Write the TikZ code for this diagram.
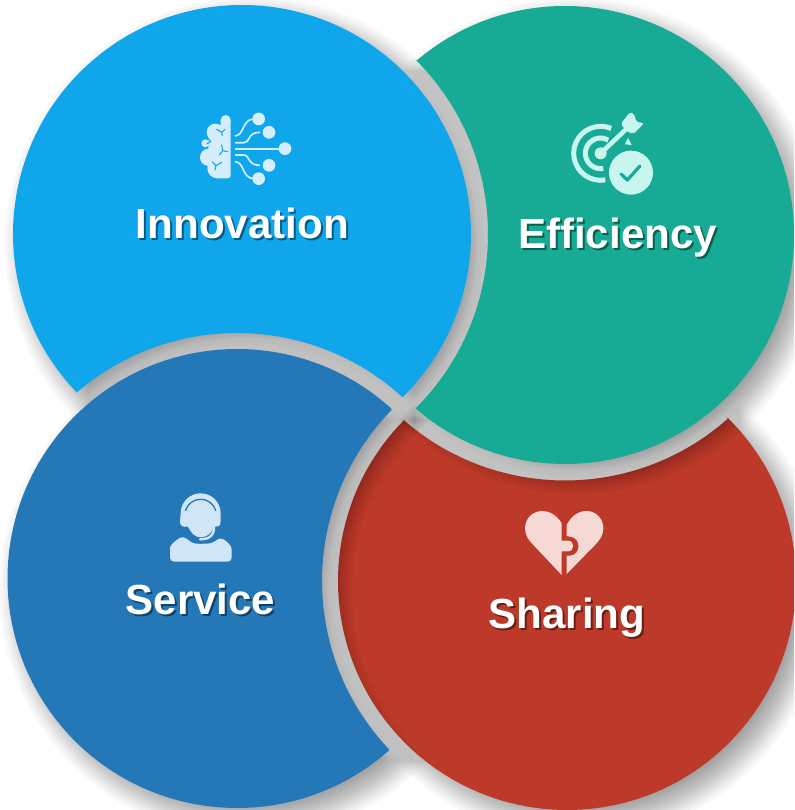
\documentclass[tikz,border=0pt]{standalone}
\usetikzlibrary{calc}
\usepackage{fontspec}
\setmainfont{Liberation Sans}
\definecolor{cA}{RGB}{16,166,236}
\definecolor{cB}{RGB}{23,170,148}
\definecolor{cC}{RGB}{36,120,184}
\definecolor{cD}{RGB}{189,57,41}
\definecolor{iA}{RGB}{214,238,252}
\definecolor{iB}{RGB}{200,245,238}
\definecolor{iC}{RGB}{208,230,246}
\definecolor{iD}{RGB}{246,216,212}
\newcommand{\softshadow}[6]{%
  \foreach \dd in {-19,-16,-13,-11,-9,-7,-5,-3,-1,1,3,5,7,9,11,13,16,19}{%
    \begin{scope}[shift={(11,11)}]
      \clip (#1,#2) circle ({#3+\dd});
      \fill[black,fill opacity=.027,even odd rule] (#4,#5) circle ({#6-\dd}) (-600,-600) rectangle (1500,1500);
    \end{scope}}}
\newcommand{\shadowed}[2]{\leavevmode\rlap{\hspace{2pt}\raisebox{-2pt}{\textcolor{#1!55!black}{#2}}}#2}
\tikzset{
  lbl/.style={font=\fontsize{42.1}{42.1}\selectfont\bfseries,text=white,anchor=base,inner sep=0pt},
}
\begin{document}
\begin{tikzpicture}[x=1pt,y=1pt,line join=round]
\useasboundingbox (0,0) rectangle (794,810);
\clip (0,0) rectangle (794,810);
\begin{scope}[shift={(0,810)},yscale=-1]
% Sharing first: the others cast their shadows on it
\softshadow{567}{581}{229}{565}{235}{245.5}
\fill[cD] (567,581)+(314.4:229) arc[start angle=314.4,end angle=584.4,radius=229]
   -- ($(565,235)+(131.1:245.5)$) arc[start angle=131.1,end angle=48.5,radius=245.5] -- cycle;
\softshadow{242}{234}{229}{237}{578.5}{245.5}
\softshadow{565}{235}{229}{242}{234}{246}
\softshadow{237}{578.5}{229.5}{567}{581}{245}
% Innovation
\fill[cA] (242,234)+(136.5:229) arc[start angle=136.5,end angle=405.4,radius=229]
   -- ($(237,578.5)+(-47.6:245.5)$) arc[start angle=-47.6,end angle=-130.8,radius=245.5] -- cycle;
% Efficiency
\fill[cB] (565,235)+(229.4:229) arc[start angle=229.4,end angle=490.6,radius=229]
   -- ($(242,234)+(45.1:246)$) arc[start angle=45.1,end angle=-44.9,radius=246] -- cycle;
% Service
\fill[cC] (237,578.5)+(48.5:229.5) arc[start angle=48.5,end angle=312.2,radius=229.5]
   -- ($(567,581)+(224.3:245)$) arc[start angle=224.3,end angle=136.8,radius=245] -- cycle;
% labels
\node[lbl] (innovation) at (242.4,239) {\shadowed{cA}{Innovation}};
\node[lbl] (efficiency) at (617.5,249) {\shadowed{cB}{Efficiency}};
\node[lbl] (service) at (200.5,615) {\shadowed{cC}{Service}};
\node[lbl] (sharing) at (567,629) {\shadowed{cD}{Sharing}};
% brain icon
\begin{scope}[shift={(180,100)},scale=1/3]
  \fill[iA] (137,60) circle (15) (106,97) circle (26) (76,130) circle (12) (86,172) circle (26) (112,205) circle (30);
  \fill[iA,rounded corners=3pt] (105,75) rectangle (152,235);
  \fill[iA] (122,60) rectangle (152,80) (85,110) rectangle (110,180);
  \draw[cA,line width=1.1pt,line cap=round]
    (110,88) -- (125,97) -- (135,88) (125,97) -- (127,106)
    (82,112) -- (92,125) -- (80,132)
    (118,165) -- (128,152) -- (125,135) (128,152) -- (143,155)
    (97,185) -- (108,197) -- (125,187) (108,197) -- (105,210);
  \begin{scope}[draw=iA,line width=1.7pt]
    \draw (165,108) .. controls (195,105) and (185,58) .. (222,57);
    \draw (165,128) -- (192,128) .. controls (212,128) and (200,97) .. (240,97);
    \draw (165,146) -- (300,146);
    \draw (165,165) -- (190,165) .. controls (212,165) and (200,196) .. (240,196);
    \draw (165,185) .. controls (195,187) and (185,235) .. (222,236);
  \end{scope}
  \fill[iA] (236,57) circle (19) (267,97) circle (19) (315,146) circle (19) (267,196) circle (19) (236,236) circle (19);
\end{scope}
% target icon
\begin{scope}[shift={(550,100)},scale=1/3]
  \draw[iB,line width=5pt] (152,160)+(80:81) arc[start angle=80,end angle=293,radius=81];
  \draw[iB,line width=5pt] (152,160)+(80:46) arc[start angle=80,end angle=300,radius=46];
  \fill[iB] (152,160) circle (18);
  \draw[iB,line width=4.6pt] (152,160) -- (228,88);
  \fill[iB,rounded corners=2pt] (212,72) -- (240,36) -- (254,44) -- (258,65) -- (282,70) -- (250,102) -- (230,94) -- cycle;
  \fill[iB] (234,114) -- (225,133) -- (245,135) -- cycle;
  \fill[iB] (243,218) circle (66);
  \draw[cB,line width=3.2pt,line cap=round] (213,222) -- (232,240) -- (270,198);
\end{scope}
% headset icon
\begin{scope}[shift={(150,480)},scale=1/3]
  \fill[iC] (92,100) arc[start angle=180,end angle=360,radius=60] -- (212,125)
    .. controls (212,140) and (200,142) .. (192,140) .. controls (185,160) and (170,172) .. (152,172)
    .. controls (135,172) and (122,158) .. (114,140) .. controls (100,142) and (90,138) .. (90,125) -- cycle;
  \draw[cC,line width=1.3pt] (152,105)+(195:47) arc[start angle=195,end angle=345,radius=47];
  \draw[iC,line width=2.4pt,line cap=round] (192,135) .. controls (194,165) and (180,178) .. (150,178);
  \fill[iC,rounded corners=4pt] (60,245) -- (60,215) .. controls (60,195) and (80,178) .. (102,168)
    .. controls (112,178) and (125,190) .. (150,192) -- (165,191) .. controls (185,190) and (198,182) .. (207,172)
    .. controls (230,182) and (245,198) .. (245,220) -- (245,245) -- cycle;
\end{scope}
% broken heart icon
\begin{scope}[shift={(510,500)},scale=1/3]
  \fill[iD] (155,70) .. controls (140,45) and (118,33) .. (97,33) .. controls (68,33) and (45,56) .. (45,85)
    .. controls (45,105) and (55,120) .. (70,135) -- (155,225) -- (155,154) -- (175,154)
    .. controls (194,154) and (194,122) .. (175,122) -- (155,122) -- cycle;
  \fill[iD] (170,75) .. controls (185,45) and (208,33) .. (230,33) .. controls (258,33) and (280,56) .. (280,85)
    .. controls (280,105) and (270,120) .. (255,135) -- (170,222) -- (170,167) -- (180,167)
    .. controls (214,165) and (214,112) .. (180,110) -- (170,108) -- cycle;
\end{scope}
\end{scope}
\end{tikzpicture}
\end{document}
